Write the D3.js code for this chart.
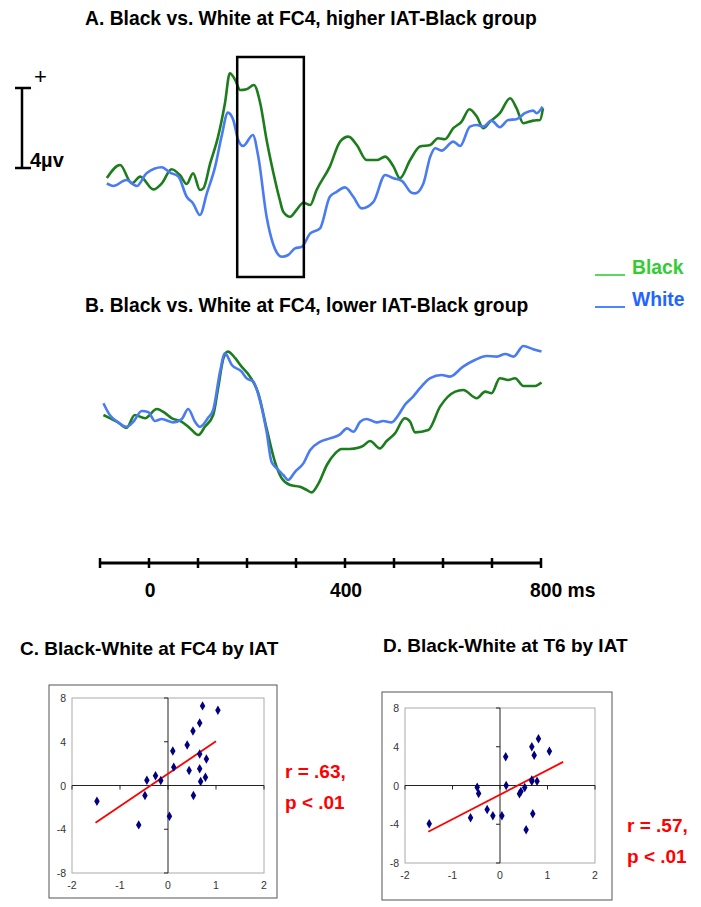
<!DOCTYPE html>
<html><head><meta charset="utf-8">
<script src="https://cdn.jsdelivr.net/npm/d3@7/dist/d3.min.js"></script>
<style>
body{margin:0;background:#fff;}
svg{display:block;font-family:"Liberation Sans",Arial,sans-serif;}
</style></head>
<body>
<svg id="c" width="701" height="907"></svg>
<script>
// ---------- DATA ----------
const seriesNames = ["Black", "White"];
// Panel A (higher IAT-Black group), time in ms, amplitude in µV
const aBlackT = [-86,-59,-35,-18,9,26,46,63,77,90,104,111,125,141,155,165,176,186,199,214,227,240,254,267,274,288,301,315,329,342,369,390,407,424,444,465,482,499,512,533,553,574,590,604,621,638,654,669,682,696,716,737,750,764,784,798,804];
const aBlackV = [0.1,0.75,-0.17,0.17,-0.47,-0.17,0.54,0.25,-0.2,0.34,-0.5,-0.42,0.84,2.17,3.84,5.34,5.0,4.5,4.54,4.75,3.84,2.0,0.34,-1.0,-1.59,-1.84,-1.5,-1.14,-1.25,-0.5,0.67,1.92,2.17,1.75,1.0,1.0,1.17,0.67,0.09,1.0,1.67,1.75,2.09,2.04,2.59,2.92,3.54,3.17,2.59,2.92,3.34,4.09,3.59,2.84,2.97,3.0,3.59];
const aWhiteT = [-86,-73,-46,-25,-5,26,43,60,77,90,104,118,135,148,161,172,182,192,212,223,240,254,271,284,298,312,329,349,369,383,400,417,434,458,482,499,516,536,543,560,574,584,597,621,635,655,669,682,699,716,733,750,767,784,791,803];
const aWhiteV = [-0.17,-0.3,0,-0.3,0.34,0.64,0.37,0.17,-0.84,-1.17,-1.75,-0.67,0.67,2.17,3.37,3.0,2.0,1.7,2.25,1.17,-1.84,-3.25,-3.84,-3.75,-3.42,-3.34,-2.67,-2.42,-0.84,-0.59,-0.37,-0.84,-1.42,-1.09,0.25,0.09,-0.04,-0.64,-0.67,-0.17,1.17,1.59,1.47,1.92,1.7,2.67,2.75,2.67,2.97,2.64,3.0,3.04,3.34,3.47,3.34,3.67];
// Panel B (lower IAT-Black group)
const bBlackT = [-93,-80,-63,-46,-29,-8,16,33,46,67,84,101,114,131,141,152,161,176,189,206,223,240,257,271,288,308,322,332,346,363,380,393,410,427,437,451,471,485,502,522,533,543,570,594,625,641,669,686,699,716,733,747,764,788,801];
const bBlackV = [0.25,0.09,-0.12,-0.39,0.25,0.09,0.55,0.34,0.09,-0.09,-0.42,-0.75,-0.34,0.25,1.59,3.09,3.42,3.09,2.67,2.17,1.34,-0.42,-2.09,-2.92,-3.25,-3.34,-3.5,-3.62,-3.17,-2.25,-1.67,-1.45,-1.45,-1.39,-1.29,-1.05,-1.42,-1.05,-0.67,0.09,-0.09,-0.62,-0.5,0.67,1.42,1.5,1.09,1.42,1.34,2.09,2.0,2.09,1.7,1.7,1.87];
const bWhiteT = [-93,-80,-63,-46,-32,-15,-1,12,26,50,67,80,94,104,121,131,145,155,169,189,199,213,227,240,250,261,274,284,298,315,329,349,369,390,404,417,431,444,465,478,495,509,522,539,553,574,597,614,641,665,689,710,727,744,764,784,801];
const bWhiteV = [0.84,0.25,-0.12,-0.34,-0.09,0.45,0.39,-0.05,0.05,-0.12,0.05,0.55,-0.09,-0.34,0.12,0.5,2.42,3.34,2.75,2.42,2.09,1.92,0.92,-0.59,-2.09,-2.42,-2.75,-3.0,-2.59,-2.17,-1.5,-1.09,-0.92,-0.72,-0.42,-0.59,-0.09,0.05,-0.12,-0.05,-0.12,0.25,0.75,1.17,1.59,2.09,2.25,2.17,2.67,3.0,3.2,3.17,3.3,3.17,3.7,3.54,3.42];
const boxWindow = [180, 316];            // ms window highlighted in panel A
const timeTicks = [-100,0,100,200,300,400,500,600,700,800];
const timeLabels = {0:"0", 400:"400", 800:"800 ms"};
const scaleBarUV = 4;

// Panel C: Black-White at FC4 vs IAT
const cX = [-1.48,-0.61,-0.48,-0.44,-0.26,-0.15,0.03,0.10,0.12,0.40,0.44,0.52,0.53,0.66,0.66,0.66,0.68,0.72,0.78,0.80,1.04];
const cY = [-1.44,-3.6,-0.92,0.49,0.89,0.46,-2.81,3.15,1.68,3.70,1.38,4.99,-0.92,5.72,2.88,1.53,0.37,7.28,0.76,2.42,6.88];
const cFitX = [-1.51, 1.0];
const cFitY = [-3.4, 4.04];
const cStat = ["r = .63,", "p < .01"];
// Panel D: Black-White at T6 vs IAT
const dX = [-1.49,-0.62,-0.48,-0.45,-0.27,-0.15,0.04,0.12,0.13,0.41,0.44,0.52,0.55,0.67,0.67,0.67,0.69,0.72,0.78,0.81,1.04];
const dY = [-3.96,-3.34,-0.17,-0.83,-2.48,-3.13,-3.13,2.96,0.0,-0.86,-0.62,-0.21,-4.58,3.99,0.45,0.58,-2.92,3.13,0.45,4.82,3.54];
const dFitX = [-1.51, 1.33];
const dFitY = [-4.78, 2.44];
const dStat = ["r = .57,", "p < .01"];
const sxTicks = [-2,-1,0,1,2];
const syTicks = [-8,-4,0,4,8];

// ---------- STYLE ----------
const lineColor = {Black:"#1b7d1b", White:"#4a7bf2"};
const legendColor = {Black:"#33cc33", White:"#1f66ff"};

const svg = d3.select("#c");
const x = d3.scaleLinear().domain([-100,800]).range([100,541]);
const yA = d3.scaleLinear().domain([0,1]).range([180,160]);
const yB = d3.scaleLinear().domain([0,1]).range([420,400]);

function wave(T, V, y, col){
  const pts = T.map((t,i)=>[t,V[i]]);
  svg.append("path").datum(pts)
    .attr("fill","none").attr("stroke",col).attr("stroke-width",2.6)
    .attr("stroke-linejoin","round")
    .attr("d", d3.line().x(d=>x(d[0])).y(d=>y(d[1])).curve(d3.curveMonotoneX));
}

// Titles
svg.append("text").attr("x",85).attr("y",25).attr("font-size",19.3).attr("font-weight","bold")
  .text("A. Black vs. White at FC4, higher IAT-Black group");
svg.append("text").attr("x",85).attr("y",312).attr("font-size",19.3).attr("font-weight","bold")
  .text("B. Black vs. White at FC4, lower IAT-Black group");

// Scale bar
const sbTop = yA(4.6), sbBot = yA(4.6 - scaleBarUV);
const sb = svg.append("g").attr("stroke","#000").attr("stroke-width",2.5);
sb.append("line").attr("x1",22).attr("x2",22).attr("y1",sbTop).attr("y2",sbBot);
sb.append("line").attr("x1",15).attr("x2",31).attr("y1",sbTop).attr("y2",sbTop);
sb.append("line").attr("x1",15).attr("x2",31).attr("y1",sbBot).attr("y2",sbBot);
svg.append("text").attr("x",34).attr("y",84).attr("font-size",22).text("+");
svg.append("text").attr("x",30).attr("y",167).attr("font-size",20).attr("font-weight","bold").text("4µv");

// Panel A waves
wave(aBlackT, aBlackV, yA, lineColor.Black);
wave(aWhiteT, aWhiteV, yA, lineColor.White);
svg.append("rect").attr("x",x(boxWindow[0])).attr("width",x(boxWindow[1])-x(boxWindow[0]))
  .attr("y",57).attr("height",220).attr("fill","none").attr("stroke","#000").attr("stroke-width",2.5);

// Panel B waves
wave(bBlackT, bBlackV, yB, lineColor.Black);
wave(bWhiteT, bWhiteV, yB, lineColor.White);

// Legend
seriesNames.forEach((n,i)=>{
  const ly = 275 + i*32;
  svg.append("line").attr("x1",595).attr("x2",625).attr("y1",ly).attr("y2",ly)
    .attr("stroke",legendColor[n]).attr("stroke-width",1.6);
  svg.append("text").attr("x",632).attr("y",ly-1).attr("font-size",19.3).attr("font-weight","bold")
    .attr("fill",legendColor[n]).text(n);
});

// Time axis
const ay = 563;
const ta = svg.append("g");
ta.append("line").attr("x1",x(-100)).attr("x2",x(800)).attr("y1",ay).attr("y2",ay)
  .attr("stroke","#000").attr("stroke-width",3);
ta.selectAll("line.t").data(timeTicks).enter().append("line")
  .attr("x1",d=>x(d)).attr("x2",d=>x(d)).attr("y1",ay-5).attr("y2",ay+5)
  .attr("stroke","#000").attr("stroke-width",2.5);
ta.selectAll("text").data(Object.keys(timeLabels).map(Number)).enter().append("text")
  .attr("x",d=>d===800 ? x(d)-11 : x(d)+1).attr("y",597)
  .attr("text-anchor",d=>d===800?"start":"middle")
  .attr("font-size",19.3).attr("font-weight","bold").text(d=>timeLabels[d]);

// Scatter panels
function scatter(o){
  svg.append("text").attr("x",o.tx).attr("y",o.ty).attr("font-size",19).attr("font-weight","bold").text(o.title);
  svg.append("rect").attr("x",o.ob[0]).attr("y",o.ob[1]).attr("width",o.ob[2]).attr("height",o.ob[3])
    .attr("fill","#fff").attr("stroke","#555").attr("stroke-width",1);
  const sx = d3.scaleLinear().domain([-2,2]).range([o.pa[0],o.pa[0]+o.pa[2]]);
  const sy = d3.scaleLinear().domain([-8,8]).range([o.pa[1]+o.pa[3],o.pa[1]]);
  svg.append("rect").attr("x",o.pa[0]).attr("y",o.pa[1]).attr("width",o.pa[2]).attr("height",o.pa[3])
    .attr("fill","none").attr("stroke","#aaa").attr("stroke-width",1);
  const g = svg.append("g");
  // zero axes
  g.append("line").attr("x1",sx(-2)).attr("x2",sx(2)).attr("y1",sy(0)).attr("y2",sy(0)).attr("stroke","#222").attr("stroke-width",1);
  g.append("line").attr("x1",sx(0)).attr("x2",sx(0)).attr("y1",sy(-8)).attr("y2",sy(8)).attr("stroke","#222").attr("stroke-width",1);
  g.selectAll("line.xt").data(sxTicks).enter().append("line")
    .attr("x1",d=>sx(d)).attr("x2",d=>sx(d)).attr("y1",sy(0)).attr("y2",sy(0)+4).attr("stroke","#222");
  g.selectAll("line.yt").data(syTicks).enter().append("line")
    .attr("x1",sx(0)-4).attr("x2",sx(0)).attr("y1",d=>sy(d)).attr("y2",d=>sy(d)).attr("stroke","#222");
  // tick labels
  g.selectAll("text.xl").data(sxTicks).enter().append("text")
    .attr("x",d=>sx(d)).attr("y",o.pa[1]+o.pa[3]+16).attr("text-anchor","middle")
    .attr("font-size",10.5).attr("fill","#333").text(d=>d);
  g.selectAll("text.yl").data(syTicks).enter().append("text")
    .attr("x",o.pa[0]-6).attr("y",d=>sy(d)+4).attr("text-anchor","end")
    .attr("font-size",10.5).attr("fill","#333").text(d=>d);
  // fit line
  g.append("line").attr("x1",sx(o.fx[0])).attr("x2",sx(o.fx[1])).attr("y1",sy(o.fy[0])).attr("y2",sy(o.fy[1]))
    .attr("stroke","#ff0000").attr("stroke-width",1.8);
  // points
  g.selectAll("path.pt").data(o.X.map((v,i)=>[v,o.Y[i]])).enter().append("path")
    .attr("d",d3.symbol().type(d3.symbolDiamond).size(26))
    .attr("transform",d=>`translate(${sx(d[0])},${sy(d[1])})`).attr("fill","#000080");
  // stats
  o.stat.forEach((s,i)=>{
    svg.append("text").attr("x",o.sxp).attr("y",o.syp+i*31).attr("font-size",19).attr("font-weight","bold")
      .attr("fill","#ff0000").text(s);
  });
}
scatter({title:"C. Black-White at FC4 by IAT", tx:20, ty:655, ob:[49,685,228,213], pa:[72,698,192,175],
  X:cX, Y:cY, fx:cFitX, fy:cFitY, stat:cStat, sxp:285, syp:778});
scatter({title:"D. Black-White at T6 by IAT", tx:383, ty:652, ob:[382,692,230,208], pa:[405,708,190,155],
  X:dX, Y:dY, fx:dFitX, fy:dFitY, stat:dStat, sxp:627, syp:832});
</script>
</body></html>
